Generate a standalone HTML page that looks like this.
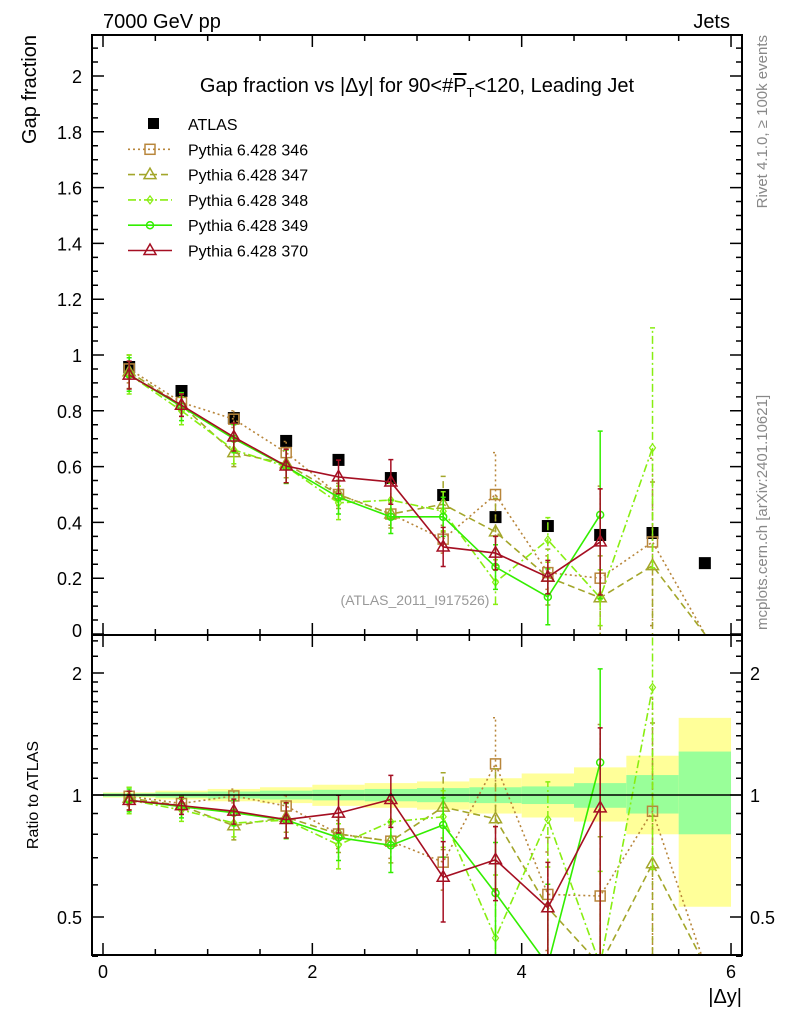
<!DOCTYPE html>
<html><head><meta charset="utf-8"><style>
html,body{margin:0;padding:0;background:#fff;width:786px;height:1024px;overflow:hidden;}
svg{display:block;font-family:"Liberation Sans",sans-serif;}
</style></head><body>
<svg id="chart" width="786" height="1024" viewBox="0 0 786 1024" xmlns="http://www.w3.org/2000/svg">
<defs>
<clipPath id="clipTop"><rect x="92" y="35" width="650" height="600"/></clipPath>
<clipPath id="clipRat"><rect x="92" y="635" width="650" height="320"/></clipPath>
</defs>
<g id="bands" clip-path="url(#clipRat)"></g>
<g id="marks"></g>
<g id="axes"></g>
<text x="103" y="28" font-size="20">7000 GeV pp</text>
<text x="730" y="28" font-size="20" text-anchor="end">Jets</text>
<text x="417" y="92" font-size="20" text-anchor="middle">Gap fraction vs |Δy| for 90&lt;#<tspan text-decoration="overline">P</tspan><tspan font-size="13" dy="5">T</tspan><tspan dy="-5">&lt;120, Leading Jet</tspan></text>
<text transform="translate(36,35) rotate(-90)" font-size="20" text-anchor="end">Gap fraction</text>
<text transform="translate(38,795) rotate(-90)" font-size="16" text-anchor="middle">Ratio to ATLAS</text>
<text x="742" y="1003" font-size="20" text-anchor="end">|Δy|</text>
<text transform="translate(767,35) rotate(-90)" font-size="15" fill="#888" text-anchor="end">Rivet 4.1.0, ≥ 100k events</text>
<text transform="translate(767,630) rotate(-90)" font-size="15" fill="#888">mcplots.cern.ch [arXiv:2401.10621]</text>
<text x="415" y="605" font-size="14" fill="#999" text-anchor="middle">(ATLAS_2011_I917526)</text>
<g id="legend"></g>
</svg>
<script>
const xs = [0.25,0.75,1.25,1.75,2.25,2.75,3.25,3.75,4.25,4.75,5.25,5.75];
const atlas = [0.957,0.871,0.774,0.692,0.624,0.559,0.498,0.419,0.387,0.355,0.362,0.254];
const s346 = [0.95,0.83,0.77,0.65,0.50,0.43,0.34,0.50,0.22,0.20,0.33,0.0];
const s347 = [0.94,0.82,0.65,0.61,0.50,0.43,0.465,0.366,0.204,0.13,0.245,0.0];
const s348 = [0.93,0.80,0.66,0.60,0.47,0.48,0.44,0.186,0.337,0.13,0.667,null];
const s349 = [0.93,0.815,0.70,0.60,0.49,0.42,0.42,0.24,0.133,0.427,null,null];
const s370 = [0.928,0.82,0.706,0.602,0.563,0.545,0.312,0.29,0.204,0.33,null,null];
const e346 = [0.05,0.03,0.03,0.04,0.04,0.04,0.05,0.15,0.06,0.33,0.3,0];
const e347 = [0.06,0.04,0.05,0.05,0.05,0.05,0.1,0.12,0.1,0.15,0.3,0];
const e348 = [0.07,0.05,0.05,0.06,0.06,0.06,0.07,0.08,0.08,0.1,0.43,0];
const e349 = [0.06,0.05,0.05,0.06,0.06,0.06,0.07,0.08,0.1,0.3,0,0];
const e370 = [0.05,0.04,0.05,0.06,0.06,0.08,0.07,0.06,0.06,0.19,0,0];
const bandLoIn = [0.99,0.985,0.98,0.975,0.97,0.965,0.96,0.955,0.95,0.93,0.9,0.8];
const bandHiIn = [1.01,1.015,1.02,1.025,1.03,1.035,1.04,1.045,1.05,1.07,1.12,1.28];
const bandLoOut = [0.985,0.975,0.965,0.955,0.94,0.93,0.92,0.9,0.88,0.86,0.8,0.53];
const bandHiOut = [1.015,1.025,1.035,1.045,1.06,1.07,1.08,1.1,1.13,1.17,1.25,1.55];
const yTickLabels = ["0","0.2","0.4","0.6","0.8","1","1.2","1.4","1.6","1.8","2"];
const xTickLabels = ["0","2","4","6"];

const NS="http://www.w3.org/2000/svg";
const X = v => 103 + 104.67*v;
const Y = v => Math.min(640, Math.max(30, 634 - 279*v));
const R = v => Math.min(965, Math.max(625, 795 - 122*Math.log2(Math.max(v,0.01))));
function mk(tag, attrs, parent){const e=document.createElementNS(NS,tag);for(const k in attrs)e.setAttribute(k,attrs[k]);parent.appendChild(e);return e;}
const marks=document.getElementById('marks'), axes=document.getElementById('axes'), bands=document.getElementById('bands'), legend=document.getElementById('legend');

for(let i=0;i<xs.length;i++){
  const x0=X(xs[i]-0.25), w=X(0.5)-X(0);
  let r=mk('rect',{x:x0,y:R(bandHiOut[i]),width:w,height:R(bandLoOut[i])-R(bandHiOut[i]),fill:'#ffff99'},bands);
  
  
  r=mk('rect',{x:x0,y:R(bandHiIn[i]),width:w,height:R(bandLoIn[i])-R(bandHiIn[i]),fill:'#99ff99'},bands);
  
  
}

const series=[
 {n:'346',v:s346,e:e346,c:'#b8863b',d:'2,3',m:'sq'},
 {n:'347',v:s347,e:e347,c:'#a3a62a',d:'7,4',m:'tri'},
 {n:'348',v:s348,e:e348,c:'#88ee11',d:'8,3,2,3',m:'dia'},
 {n:'349',v:s349,e:e349,c:'#33ee00',d:'',m:'cross'},
 {n:'370',v:s370,e:e370,c:'#a50f22',d:'',m:'tri'}
];
function marker(g,m,x,y,c,sz){
  let el;
  if(m==='sq') el=mk('rect',{x:x-sz,y:y-sz,width:2*sz,height:2*sz,fill:'none',stroke:c,'stroke-width':1.5},g);
  else if(m==='tri') el=mk('polygon',{points:`${x},${y-sz*1.3} ${x-sz*1.2},${y+sz*0.8} ${x+sz*1.2},${y+sz*0.8}`,fill:'none',stroke:c,'stroke-width':1.5},g);
  else if(m==='dia') el=mk('polygon',{points:`${x},${y-4} ${x+3},${y} ${x},${y+4} ${x-3},${y}`,fill:'none',stroke:c,'stroke-width':1.2},g);
  else {el=mk('circle',{cx:x,cy:y,r:3.5,fill:'none',stroke:c,'stroke-width':1.5},g);}
  return el;
}
function drawPanel(clip, fy, valFn, errFn, panel){
  const g=mk('g',{'clip-path':`url(#${clip})`},marks);
  
  
  series.forEach(s=>{
    const pts=[];
    for(let i=0;i<xs.length;i++){
      const v=valFn(s,i); if(v===null) continue;
      const x=X(xs[i]), y=fy(v);
      pts.push(x+','+y);
      const e=errFn(s,i);
      if(e>0 && v>0.01){
        const lo=fy(v-e), hi=fy(v+e);
        const eb=mk('path',{d:`M${x},${lo}V${hi}M${x-2.5},${lo}H${x+2.5}M${x-2.5},${hi}H${x+2.5}`,stroke:s.c,'stroke-width':1.5,'stroke-dasharray':s.d,fill:'none'},g);
        
        
      }
    }
    const pl=mk('polyline',{points:pts.join(' '),fill:'none',stroke:s.c,'stroke-width':1.6,'stroke-dasharray':s.d},g);
    
    
    for(let i=0;i<xs.length;i++){
      const v=valFn(s,i); if(v===null || v<=0.01) continue;
      const mm=marker(g,s.m,X(xs[i]),fy(v),s.c,5);
      
      
    }
  });
}
const gA=mk('g',{'clip-path':'url(#clipTop)'},marks);


drawPanel('clipTop',Y,(s,i)=>s.v[i],(s,i)=>s.e[i],'top');
for(let i=0;i<xs.length;i++){
  const r=mk('rect',{x:X(xs[i])-6,y:Y(atlas[i])-6,width:12,height:12,fill:'#000'},gA);
  
  
}
drawPanel('clipRat',R,(s,i)=>s.v[i]===null?null:s.v[i]/atlas[i],(s,i)=>s.e[i]/atlas[i],'ratio');
const one=mk('line',{x1:92,x2:742,y1:R(1),y2:R(1),stroke:'#000','stroke-width':1.5},marks);



let f=mk('rect',{x:92,y:35,width:650,height:600,fill:'none',stroke:'#000','stroke-width':2},axes);


f=mk('rect',{x:92,y:635,width:650,height:320,fill:'none',stroke:'#000','stroke-width':2},axes);


let d='';
for(let k=0;k<=43;k++){const y=634-279*k*0.05; if(y<35) break; const L=(k%4===0)?12:6; d+=`M92,${y}h${L}M742,${y}h${-L}`;}
for(let k=0;k<=12;k++){const x=X(k*0.5); const L=(k%4===0)?12:6; d+=`M${x},635v${-L}M${x},955v${-L}M${x},635v${L}M${x},35v${L}`;}
[0.4,0.5,0.6,0.7,0.8,0.9,1,1.1,1.2,1.3,1.4,1.5,1.6,1.7,1.8,1.9,2,2.2,2.4].forEach(v=>{const y=R(v);const L=(v===0.5||v===1||v===2)?12:6;d+=`M92,${y}h${L}M742,${y}h${-L}`;});
const tk=mk('path',{d:d,stroke:'#000','stroke-width':1.5,fill:'none'},axes);


yTickLabels.forEach((t,i)=>{const e=mk('text',{x:82,y:Y(i*0.2)+(i===0?3:7),'font-size':18,'text-anchor':'end'},axes);e.textContent=t;
 
 });
xTickLabels.forEach((t,i)=>{const e=mk('text',{x:X(i*2),y:978,'font-size':18,'text-anchor':'middle'},axes);e.textContent=t;
 
 });
[['0.5',0.5],['1',1],['2',2]].forEach(([t,v])=>{
 let e=mk('text',{x:82,y:R(v)+7,'font-size':18,'text-anchor':'end'},axes);e.textContent=t;
 
 
 e=mk('text',{x:750,y:R(v)+7,'font-size':18},axes);e.textContent=t;
 
 });

const names=['ATLAS','Pythia 6.428 346','Pythia 6.428 347','Pythia 6.428 348','Pythia 6.428 349','Pythia 6.428 370'];
names.forEach((nm,i)=>{
  const y=124+i*25.3;
  const g=mk('g',{},legend);
  
  
  if(i===0){mk('rect',{x:148,y:y-6,width:11,height:11,fill:'#000'},g);}
  else{const s=series[i-1];mk('line',{x1:128,x2:172,y1:y,y2:y,stroke:s.c,'stroke-width':1.6,'stroke-dasharray':s.d},g);marker(g,s.m,150,y,s.c,5);}
  const t=mk('text',{x:188,y:y+6,'font-size':16},g);t.textContent=nm;
});
</script>
</body></html>
